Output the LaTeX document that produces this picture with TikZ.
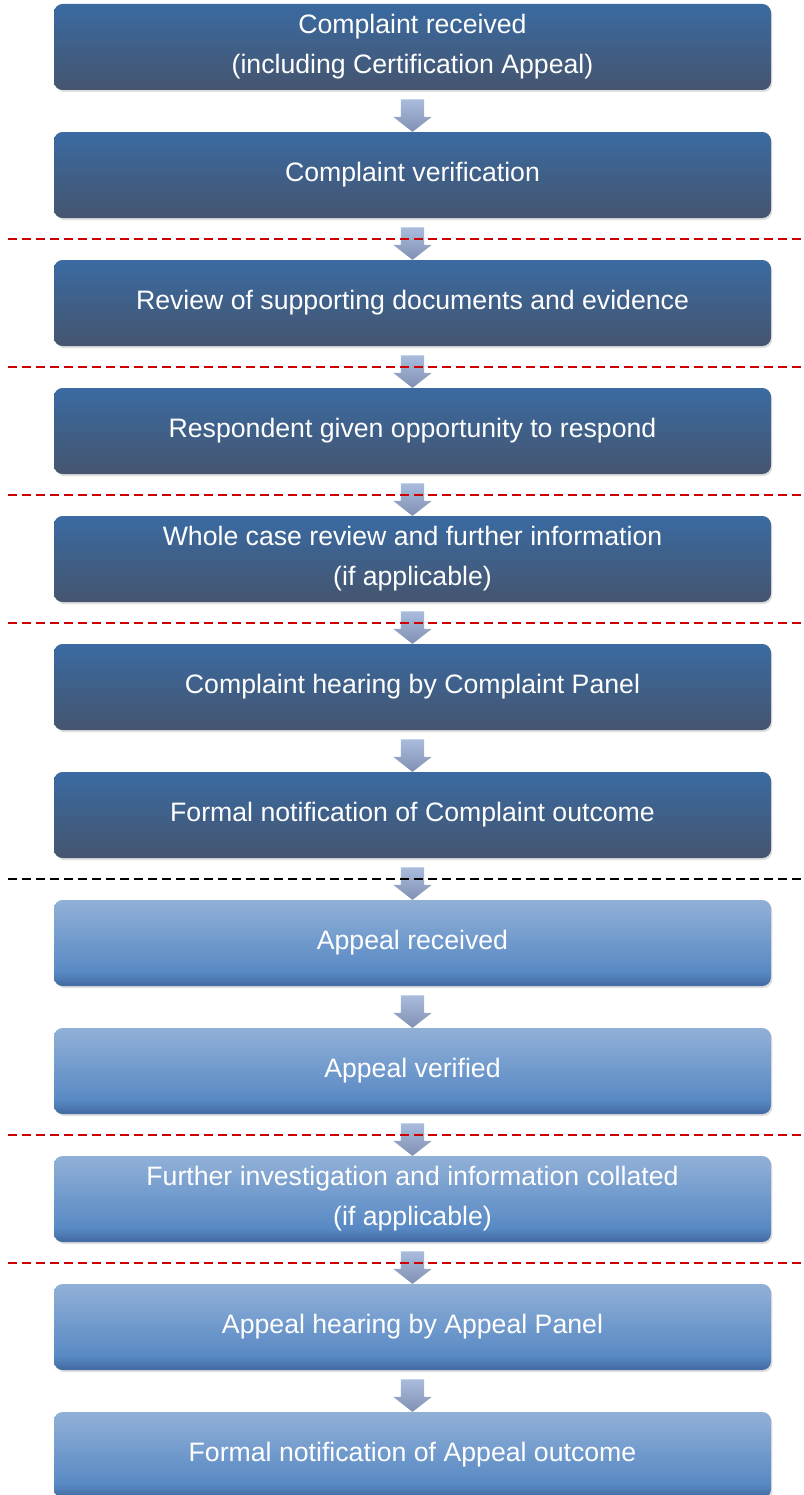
\documentclass[tikz,border=0pt]{standalone}
\usepackage{fontspec}
\setmainfont{Liberation Sans}
\usepackage{tikz}
\usetikzlibrary{positioning, calc, shapes.arrows, shadows}
\definecolor{cmptop}{RGB}{58,106,161}
\definecolor{cmpbot}{RGB}{69,85,111}
\definecolor{apptop}{RGB}{145,176,215}
\definecolor{appmid}{RGB}{88,137,196}
\definecolor{appbot}{RGB}{64,104,158}
\definecolor{arrtop}{RGB}{170,188,222}
\definecolor{arrbot}{RGB}{128,144,178}
\definecolor{breakred}{RGB}{204,0,0}
\pgfdeclareverticalshading{appealshade}{100bp}{color(0bp)=(appbot); color(25bp)=(appbot); color(33bp)=(appmid); color(75bp)=(apptop); color(100bp)=(apptop)}
\tikzset{>=stealth,
	stage/.style={rounded corners=6.5pt, minimum width=537.75pt, minimum height=64.5pt, inner sep=0pt, outer sep=0pt, text=white, align=center, font=\fontsize{20}{30}\selectfont, drop shadow={shadow xshift=1pt, shadow yshift=-1.5pt, opacity=0.25}},
	complaint/.style={stage, top color=cmptop, bottom color=cmpbot},
	appeal/.style={stage, shade, shading=appealshade},
	flowarrow/.style={single arrow, shape border rotate=270, minimum height=24pt, minimum width=28.5pt, single arrow head extend=5.6pt, single arrow tip angle=104, inner sep=8.6pt, outer sep=0pt, top color=arrtop, bottom color=arrbot},
	stagebreak/.style={breakred, line width=1.5pt, dash pattern=on 6.75pt off 3.75pt},
	partbreak/.style={stagebreak, black}
}

\begin{document}
\begin{tikzpicture}[x=0.75pt, y=0.75pt, node distance=31.5pt]
	\useasboundingbox (0,0) rectangle (803,-1495);
	\coordinate (lineL) at (8,0); \coordinate (lineR) at (803,0);
	% complaint stages
	\node[complaint] (received) at (412.5,-47) {Complaint received\\(including Certification Appeal)};
	\node[complaint, below=of received] (verified) {Complaint verification};
	\node[complaint, below=of verified] (review) {Review of supporting documents and evidence};
	\node[complaint, below=of review] (respond) {Respondent given opportunity to respond};
	\node[complaint, below=of respond] (wholecase) {Whole case review and further information\\(if applicable)};
	\node[complaint, below=of wholecase] (hearing) {Complaint hearing by Complaint Panel};
	\node[complaint, below=of hearing] (outcome) {Formal notification of Complaint outcome};
	% appeal stages
	\node[appeal, below=of outcome] (appealrec) {Appeal received};
	\node[appeal, below=of appealrec] (appealver) {Appeal verified};
	\node[appeal, below=of appealver] (investigate) {Further investigation and information collated\\(if applicable)};
	\node[appeal, below=of investigate] (appealhear) {Appeal hearing by Appeal Panel};
	\node[appeal, below=of appealhear] (appealout) {Formal notification of Appeal outcome};
	\foreach \u/\v [count=\i] in {received/verified, verified/review, review/respond, respond/wholecase, wholecase/hearing, hearing/outcome, outcome/appealrec, appealrec/appealver, appealver/investigate, investigate/appealhear, appealhear/appealout}
		\node[flowarrow] (arrow\i) at ($(\u.south)!0.5!(\v.north)$) {};
	\foreach \i in {2,3,4,5,9,10}
		\draw[stagebreak] (lineL |- arrow\i) -- (lineR |- arrow\i);
	\draw[partbreak] (lineL |- arrow7) -- (lineR |- arrow7);
\end{tikzpicture}
\end{document}
